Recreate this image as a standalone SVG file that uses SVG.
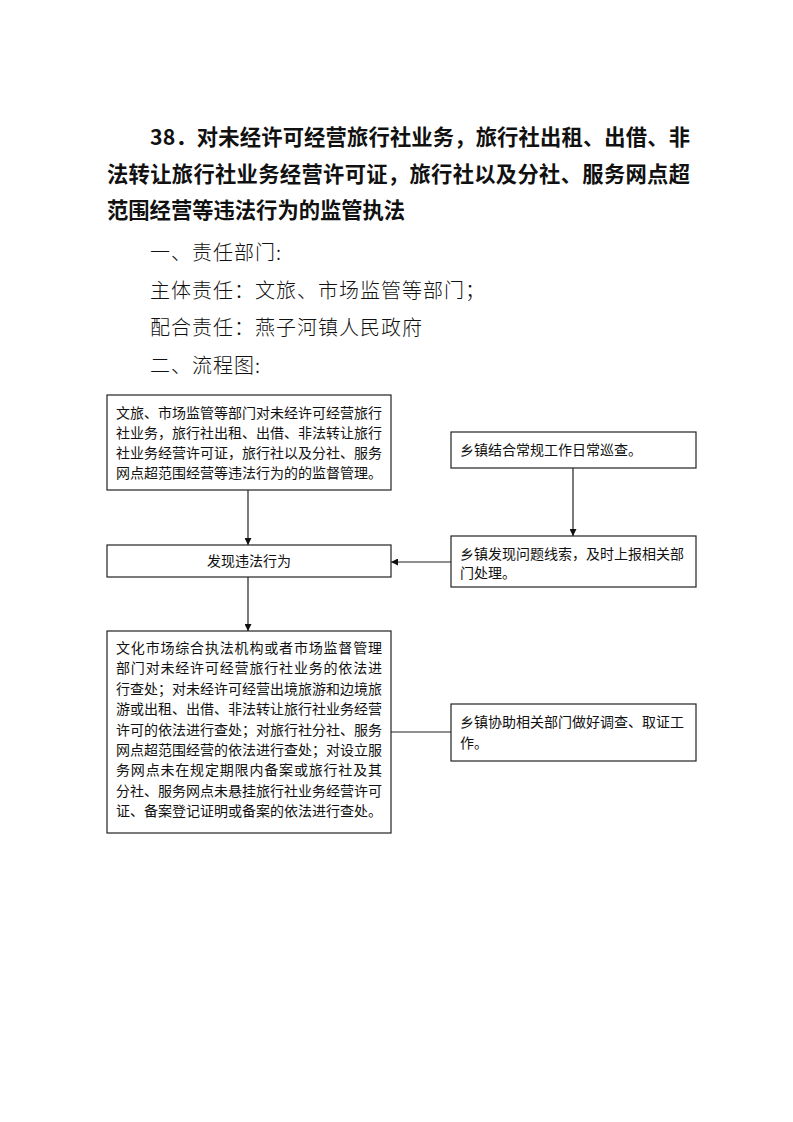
<svg xmlns="http://www.w3.org/2000/svg" width="793" height="1122" viewBox="0 0 793 1122">
<style>
.title{font-family:"Noto Sans CJK SC","Liberation Sans",sans-serif;font-size:21.3px;font-weight:700;fill:#111}
.sec{font-family:"Noto Sans CJK SC","Liberation Sans",sans-serif;font-size:20px;font-weight:300;letter-spacing:1px;fill:#111}
.box{fill:#fff;stroke:#222;stroke-width:1.2}
.t{font-family:"Noto Sans CJK SC","Liberation Sans",sans-serif;font-size:14px;fill:#111}
.c{fill:none;stroke:#222;stroke-width:1.2}
</style>
<defs>
<marker id="ah" viewBox="0 0 10 10" refX="10" refY="5" markerWidth="7" markerHeight="7" markerUnits="userSpaceOnUse" orient="auto">
<path d="M0,0 L10,5 L0,10 Z" fill="#111"/>
</marker>
</defs>
<rect width="793" height="1122" fill="#fff"/>
<g id="heading">
<text class="title" x="150" y="145" textLength="540" lengthAdjust="spacing">38．对未经许可经营旅行社业务，旅行社出租、出借、非</text>
<text class="title" x="107" y="182" textLength="583" lengthAdjust="spacing">法转让旅行社业务经营许可证，旅行社以及分社、服务网点超</text>
<text class="title" x="107" y="218">范围经营等违法行为的监管执法</text>
<text class="sec" x="150" y="260">一、责任部门:</text>
<text class="sec" x="150" y="298">主体责任：文旅、市场监管等部门；</text>
<text class="sec" x="150" y="335">配合责任：燕子河镇人民政府</text>
<text class="sec" x="150" y="373">二、流程图:</text>
</g>
<g id="connectors">
<line class="c" x1="248" y1="490" x2="248" y2="545" marker-end="url(#ah)"/>
<line class="c" x1="248" y1="577" x2="248" y2="631" marker-end="url(#ah)"/>
<line class="c" x1="573" y1="468" x2="573" y2="536" marker-end="url(#ah)"/>
<line class="c" x1="451" y1="562" x2="391" y2="562" marker-end="url(#ah)"/>
<line class="c" x1="391" y1="732" x2="451" y2="732"/>
</g>
<g id="n1">
<rect class="box" x="107" y="395" width="284" height="95"/>
<text class="t" x="116" y="418" textLength="266" lengthAdjust="spacing">文旅、市场监管等部门对未经许可经营旅行</text>
<text class="t" x="116" y="438" textLength="266" lengthAdjust="spacing">社业务，旅行社出租、出借、非法转让旅行</text>
<text class="t" x="116" y="458" textLength="266" lengthAdjust="spacing">社业务经营许可证，旅行社以及分社、服务</text>
<text class="t" x="116" y="478" textLength="266" lengthAdjust="spacing">网点超范围经营等违法行为的的监督管理。</text>
</g>
<g id="n2">
<rect class="box" x="107" y="545" width="284" height="32"/>
<text class="t" x="249" y="566" text-anchor="middle">发现违法行为</text>
</g>
<g id="n3">
<rect class="box" x="107" y="631" width="284" height="202"/>
<text class="t" x="116" y="653" textLength="266" lengthAdjust="spacing">文化市场综合执法机构或者市场监督管理</text>
<text class="t" x="116" y="673.4" textLength="266" lengthAdjust="spacing">部门对未经许可经营旅行社业务的依法进</text>
<text class="t" x="116" y="693.8" textLength="266" lengthAdjust="spacing">行查处；对未经许可经营出境旅游和边境旅</text>
<text class="t" x="116" y="714.2" textLength="266" lengthAdjust="spacing">游或出租、出借、非法转让旅行社业务经营</text>
<text class="t" x="116" y="734.6" textLength="266" lengthAdjust="spacing">许可的依法进行查处；对旅行社分社、服务</text>
<text class="t" x="116" y="755" textLength="266" lengthAdjust="spacing">网点超范围经营的依法进行查处；对设立服</text>
<text class="t" x="116" y="775.4" textLength="266" lengthAdjust="spacing">务网点未在规定期限内备案或旅行社及其</text>
<text class="t" x="116" y="795.8" textLength="266" lengthAdjust="spacing">分社、服务网点未悬挂旅行社业务经营许可</text>
<text class="t" x="116" y="816.2" textLength="266" lengthAdjust="spacing">证、备案登记证明或备案的依法进行查处。</text>
</g>
<g id="n4">
<rect class="box" x="451" y="432" width="245" height="36"/>
<text class="t" x="460" y="455">乡镇结合常规工作日常巡查。</text>
</g>
<g id="n5">
<rect class="box" x="451" y="536" width="245" height="51"/>
<text class="t" x="460" y="559">乡镇发现问题线索，及时上报相关部</text>
<text class="t" x="460" y="578">门处理。</text>
</g>
<g id="n6">
<rect class="box" x="451" y="704" width="245" height="57"/>
<text class="t" x="460" y="727">乡镇协助相关部门做好调查、取证工</text>
<text class="t" x="460" y="748">作。</text>
</g>
</svg>
